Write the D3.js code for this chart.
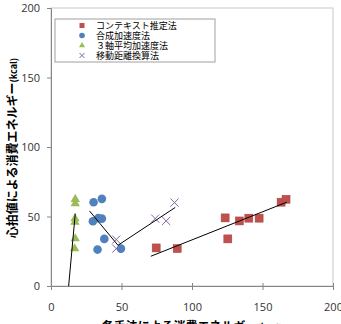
<!DOCTYPE html>
<html>
<head>
<meta charset="utf-8">
<script src="https://cdn.jsdelivr.net/npm/d3@7"></script>
<style>
  body { margin: 0; background: #fff; }
  svg { display: block; }
  .axis text { font-family: "Open Sans", "Noto Sans", sans-serif; font-size: 11px; fill: #333; }
  .axis path, .axis line { stroke: #868686; }
</style>
</head>
<body>
<div id="chart"></div>
<script>
// 各手法の消費エネルギー（x）と心拍値による消費エネルギー（y）
var seriesNames = ['コンテキスト推定法', '合成加速度法', '３軸平均加速度法', '移動距離換算法'];

var contextX = [74.6, 89.5, 123.5, 125.4, 133.6, 140.3, 147.6, 163.2, 166.7];
var contextY = [27.4, 26.9, 49.0, 33.9, 46.8, 48.8, 48.8, 60.3, 62.4];

var compositeX = [30.2, 36.1, 29.7, 33.5, 36.1, 37.8, 33.0, 49.6];
var compositeY = [60.3, 62.7, 46.6, 48.8, 48.5, 33.9, 26.2, 26.9];

var triaxialX = [17.2, 17.2, 17.0, 17.0, 17.2, 16.8];
var triaxialY = [62.4, 59.3, 48.5, 46.1, 34.1, 26.9];

var distanceX = [46.3, 46.3, 73.9, 81.7, 87.6];
var distanceY = [33.4, 26.9, 48.5, 46.8, 60.0];

// 近似直線（始点と終点）
var trendContext = [[70.8, 21.4], [167.2, 60.3]];
var trendComposite = [[27.3, 54.0], [47.5, 29.3]];
var trendTriaxial = [[12.5, 0], [17.2, 52.1]];
var trendDistance = [[47.5, 29.3], [88.1, 56.5]];

var xTicks = [0, 50, 100, 150, 200];
var yTicks = [0, 50, 100, 150, 200];

var width = 341;
var height = 324;
var margin = { top: 8, right: 8, bottom: 38, left: 51 };
var w = width - margin.left - margin.right;
var h = height - margin.top - margin.bottom;

var xScale = d3.scaleLinear().domain([0, 200]).range([0, w]);
var yScale = d3.scaleLinear().domain([0, 200]).range([h, 0]);

var svg = d3.select('#chart').append('svg')
  .attr('width', width).attr('height', height);

var g = svg.append('g')
  .attr('transform', 'translate(' + margin.left + ',' + margin.top + ')');

// プロットエリアの枠
g.append('rect')
  .attr('width', w).attr('height', h)
  .attr('fill', 'none').attr('stroke', '#c8c8c8');

// 軸
g.append('g').attr('class', 'axis')
  .attr('transform', 'translate(0,' + h + ')')
  .call(d3.axisBottom(xScale).tickValues(xTicks).tickSize(4).tickPadding(13))
  .call(function(s) { s.selectAll('.tick line').attr('y1', -3); });

g.append('g').attr('class', 'axis')
  .call(d3.axisLeft(yScale).tickValues(yTicks).tickSize(4).tickPadding(7));

var line = d3.line()
  .x(function(d) { return xScale(d[0]); })
  .y(function(d) { return yScale(d[1]); });

// マーカー
function zip(xs, ys) {
  return xs.map(function(x, i) { return [x, ys[i]]; });
}

var sq = 8;
g.append('g').selectAll('rect').data(zip(contextX, contextY)).enter()
  .append('rect')
  .attr('x', function(d) { return xScale(d[0]) - sq / 2; })
  .attr('y', function(d) { return yScale(d[1]) - sq / 2; })
  .attr('width', sq).attr('height', sq)
  .attr('fill', '#c0504d').attr('stroke', '#a8423f').attr('stroke-width', 0.5);

g.append('g').selectAll('circle').data(zip(compositeX, compositeY)).enter()
  .append('circle')
  .attr('cx', function(d) { return xScale(d[0]); })
  .attr('cy', function(d) { return yScale(d[1]); })
  .attr('r', 4.3)
  .attr('fill', '#4f81bd');

var tri = d3.symbol().type(d3.symbolTriangle).size(38);
g.append('g').selectAll('path').data(zip(triaxialX, triaxialY)).enter()
  .append('path')
  .attr('d', tri)
  .attr('transform', function(d) { return 'translate(' + xScale(d[0]) + ',' + yScale(d[1]) + ')'; })
  .attr('fill', '#9bbb59');

var cross = d3.symbol().type(d3.symbolX).size(45);
g.append('g').selectAll('path').data(zip(distanceX, distanceY)).enter()
  .append('path')
  .attr('d', cross)
  .attr('transform', function(d) { return 'translate(' + xScale(d[0]) + ',' + yScale(d[1]) + ')'; })
  .attr('fill', 'none').attr('stroke', '#8064a2').attr('stroke-width', 1);

// 近似直線
[trendContext, trendComposite, trendTriaxial, trendDistance].forEach(function(t) {
  g.append('path').datum(t)
    .attr('d', line)
    .attr('fill', 'none').attr('stroke', '#000').attr('stroke-width', 1);
});

// 凡例
var legend = svg.append('g').attr('transform', 'translate(55,19)');
legend.append('rect')
  .attr('width', 160).attr('height', 43)
  .attr('fill', '#fff').attr('stroke', '#a0a0a0');

var markers = [
  function(s) { s.append('rect').attr('x', -2.5).attr('y', -2.5).attr('width', 5).attr('height', 5).attr('fill', '#c0504d'); },
  function(s) { s.append('circle').attr('r', 2.8).attr('fill', '#4f81bd'); },
  function(s) { s.append('path').attr('d', d3.symbol().type(d3.symbolTriangle).size(16)).attr('fill', '#9bbb59'); },
  function(s) { s.append('path').attr('d', d3.symbol().type(d3.symbolX).size(18)).attr('fill', 'none').attr('stroke', '#8064a2'); }
];

seriesNames.forEach(function(name, i) {
  var row = legend.append('g').attr('transform', 'translate(0,' + (6.5 + i * 10) + ')');
  row.append('g').attr('transform', 'translate(27,0)').call(markers[i]);
  row.append('text')
    .attr('x', 41).attr('y', 0).attr('dy', '0.35em')
    .attr('font-family', '"Noto Sans CJK JP", sans-serif')
    .attr('font-size', 9).attr('fill', '#000')
    .text(name);
});

// 軸タイトル
svg.append('text')
  .attr('transform', 'translate(13,' + 148 + ') rotate(-90)')
  .attr('text-anchor', 'middle').attr('dy', '0.35em')
  .attr('font-family', '"Noto Sans CJK JP", sans-serif')
  .attr('font-weight', 'bold').attr('font-size', 12)
  .text('心拍値による消費エネルギー')
  .append('tspan').attr('font-size', 9).text('(kcal)');

svg.append('text')
  .attr('x', 192).attr('y', 331)
  .attr('text-anchor', 'middle')
  .attr('font-family', '"Noto Sans CJK JP", sans-serif')
  .attr('font-weight', 'bold').attr('font-size', 12)
  .text('各手法による消費エネルギー')
  .append('tspan').attr('font-size', 9).text('(kcal)');
</script>
</body>
</html>
